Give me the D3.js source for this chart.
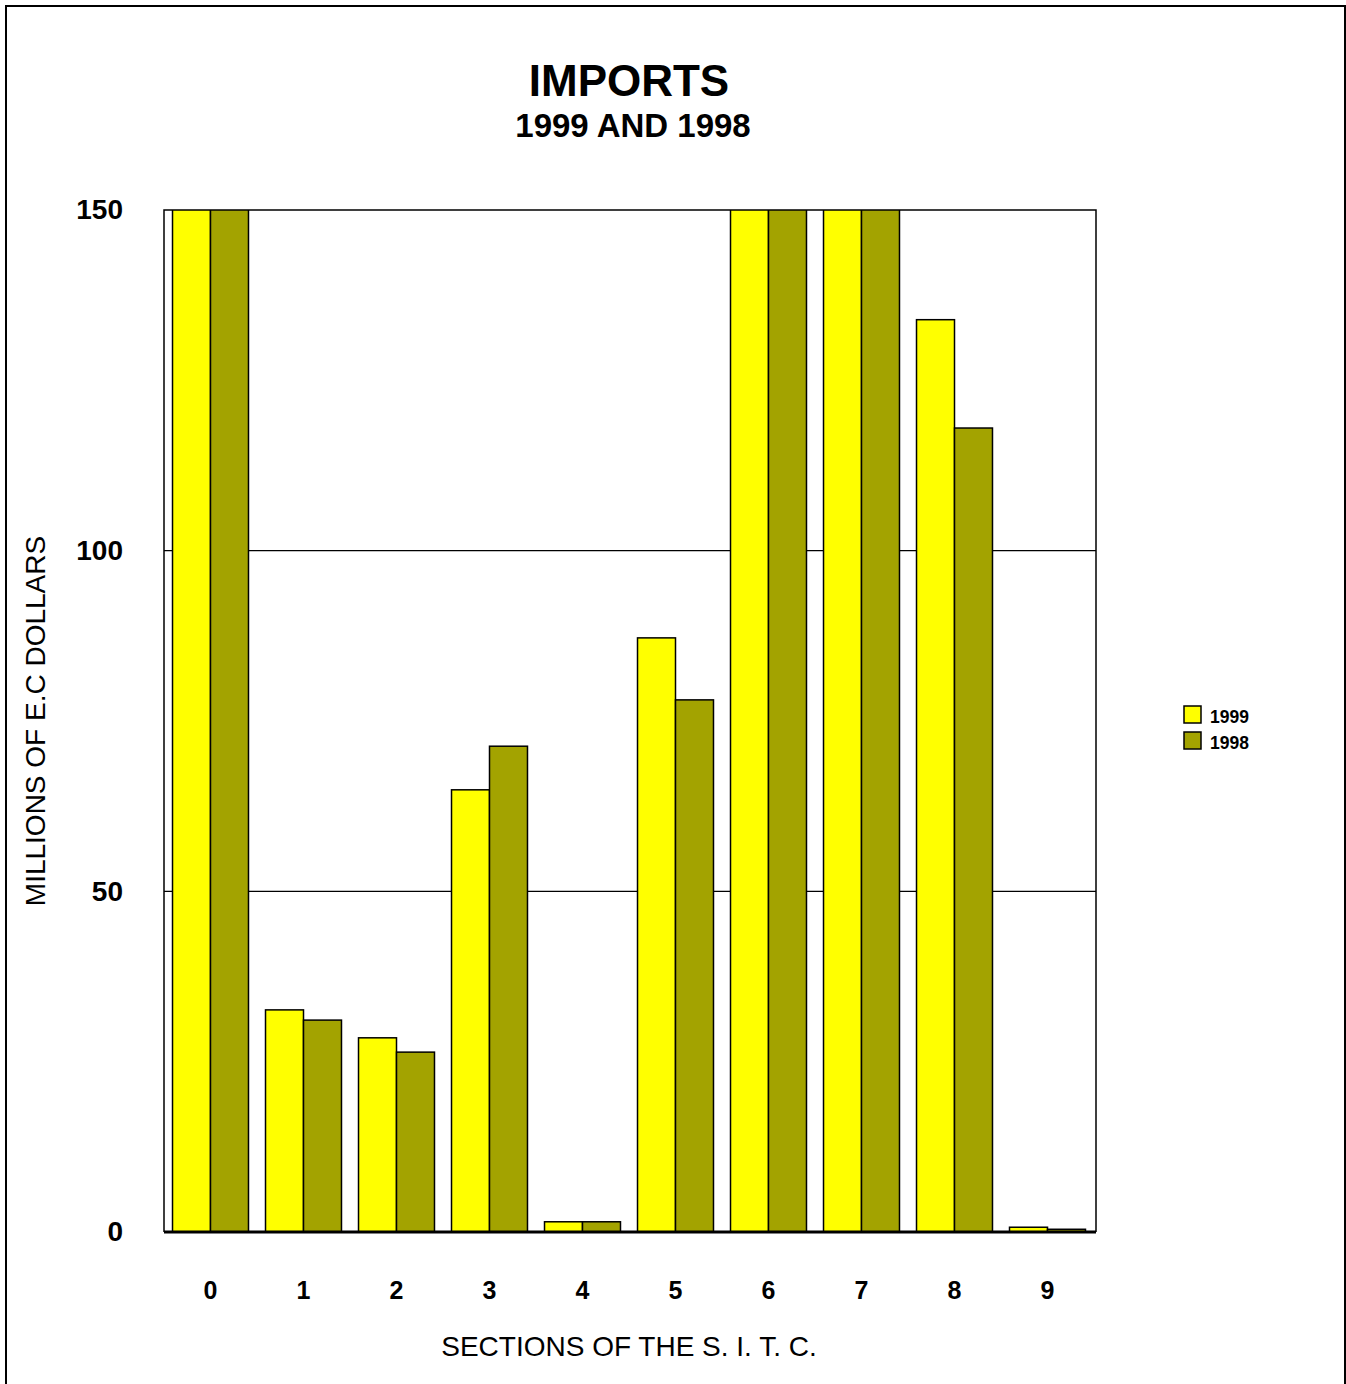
<!DOCTYPE html>
<html>
<head>
<meta charset="utf-8">
<script src="https://cdn.jsdelivr.net/npm/d3@7"></script>
<style>
  body { margin: 0; background: #fff; }
  svg { display: block; font-family: 'Liberation Sans', Arial, sans-serif; }
</style>
</head>
<body>
<svg id="chart" width="1346" height="1384"></svg>
<script>
// SITC sections and import values (millions of E.C dollars); 0, 6, 7 run off the top of the axis
const sections = ['0', '1', '2', '3', '4', '5', '6', '7', '8', '9']
const series = ['1999', '1998']
const values1999 = [190, 32.6, 28.5, 64.9, 1.5, 87.2, 205, 178, 133.9, 0.7]
const values1998 = [175, 31.1, 26.4, 71.3, 1.5, 78.1, 190, 165, 118.0, 0.4]
const yTicks = [0, 50, 100, 150]
const colors = { '1999': '#ffff00', '1998': '#a3a300' }

const svg = d3.select('#chart')
const margin = { top: 210, right: 250, bottom: 152, left: 164 }
const width = 1346 - margin.left - margin.right
const height = 1384 - margin.top - margin.bottom

// outer frame
svg.append('path')
  .attr('d', 'M6,1384 V6 H1345 V1384')
  .attr('fill', 'none')
  .attr('stroke', '#000')
  .attr('stroke-width', 2)

svg.append('text')
  .attr('x', 629).attr('y', 96)
  .attr('text-anchor', 'middle')
  .attr('font-size', 44).attr('font-weight', 'bold')
  .text('IMPORTS')

svg.append('text')
  .attr('x', 633).attr('y', 137)
  .attr('text-anchor', 'middle')
  .attr('font-size', 33).attr('font-weight', 'bold')
  .text('1999 AND 1998')

const g = svg.append('g').attr('transform', `translate(${margin.left},${margin.top})`)

const x0 = d3.scaleBand().domain(sections).range([0, width - 2]).paddingInner(0.183).paddingOuter(0.0915)
const x1 = d3.scaleBand().domain(series).range([0, x0.bandwidth()])
const y = d3.scaleLinear().domain([0, 150]).range([height, 0])

// gridlines
g.append('g')
  .selectAll('line')
  .data([50, 100])
  .join('line')
  .attr('x1', 0).attr('x2', width)
  .attr('y1', (d) => y(d)).attr('y2', (d) => y(d))
  .attr('stroke', '#000').attr('stroke-width', 1.2)

svg.append('defs').append('clipPath').attr('id', 'plot-clip')
  .append('rect').attr('x', 0).attr('y', 0).attr('width', width).attr('height', height)

const rows = sections.map((s, i) => ({ section: s, '1999': values1999[i], '1998': values1998[i] }))

g.append('g')
  .attr('clip-path', 'url(#plot-clip)')
  .selectAll('g')
  .data(rows)
  .join('g')
  .attr('transform', (d) => `translate(${x0(d.section)},0)`)
  .selectAll('rect')
  .data((d) => series.map((k) => ({ key: k, value: d[k] })))
  .join('rect')
  .attr('x', (d) => x1(d.key))
  .attr('width', x1.bandwidth())
  .attr('y', (d) => y(d.value))
  .attr('height', (d) => y(0) - y(d.value))
  .attr('fill', (d) => colors[d.key])
  .attr('stroke', '#000')
  .attr('stroke-width', 1.5)

// plot frame: left, top, right
g.append('path')
  .attr('d', `M0,${height} V0 H${width} V${height}`)
  .attr('fill', 'none')
  .attr('stroke', '#000')
  .attr('stroke-width', 1.5)

// zero line
g.append('line')
  .attr('x1', 0).attr('x2', width)
  .attr('y1', y(0)).attr('y2', y(0))
  .attr('stroke', '#000').attr('stroke-width', 3)

const yAxis = g.append('g')
  .call(d3.axisLeft(y).tickValues(yTicks).tickSize(0).tickPadding(41))
yAxis.select('.domain').remove()
yAxis.selectAll('text')
  .attr('font-family', "'Liberation Sans', Arial, sans-serif")
  .attr('font-size', 28).attr('font-weight', 'bold').attr('fill', '#000')

const xAxis = g.append('g')
  .attr('transform', `translate(0,${height})`)
  .call(d3.axisBottom(x0).tickSize(0).tickPadding(49))
xAxis.select('.domain').remove()
xAxis.selectAll('text')
  .attr('font-family', "'Liberation Sans', Arial, sans-serif")
  .attr('font-size', 25).attr('font-weight', 'bold').attr('fill', '#000')

svg.append('text')
  .attr('x', 629).attr('y', 1356)
  .attr('text-anchor', 'middle')
  .attr('font-size', 28)
  .text('SECTIONS OF THE S. I. T. C.')

svg.append('text')
  .attr('transform', 'translate(45,721) rotate(-90)')
  .attr('text-anchor', 'middle')
  .attr('font-size', 28)
  .text('MILLIONS OF E.C DOLLARS')

// legend
const legend = svg.append('g').attr('transform', 'translate(1184,706)')
const item = legend.selectAll('g')
  .data(series)
  .join('g')
  .attr('transform', (d, i) => `translate(0,${i * 26})`)
item.append('rect')
  .attr('width', 17).attr('height', 17)
  .attr('fill', (d) => colors[d])
  .attr('stroke', '#000').attr('stroke-width', 1.5)
item.append('text')
  .attr('x', 26).attr('y', 17)
  .attr('font-size', 17.5).attr('font-weight', 'bold')
  .text((d) => d)
</script>
</body>
</html>
